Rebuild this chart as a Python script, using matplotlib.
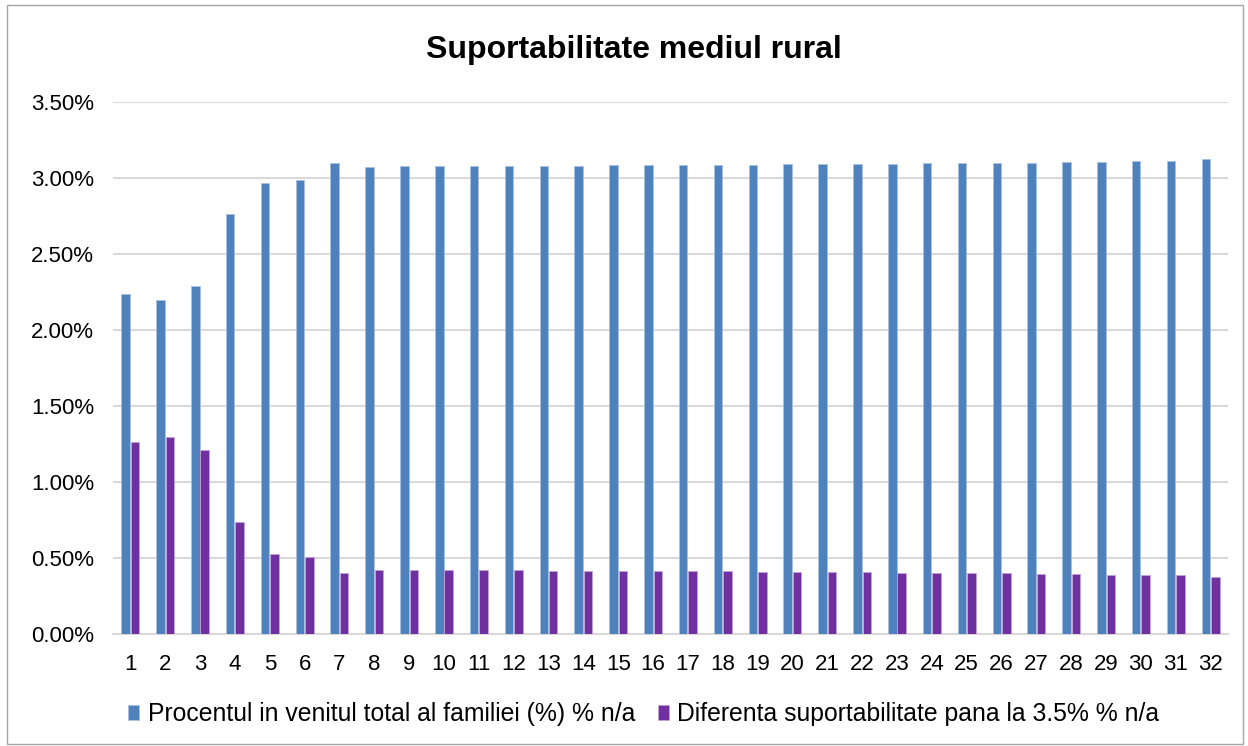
import numpy as np
import matplotlib.pyplot as plt
from matplotlib.patches import Rectangle
from matplotlib.ticker import PercentFormatter

plt.rcParams["font.family"] = ["Liberation Sans", "DejaVu Sans"]

# ── Data ──────────────────────────────────────────────────────────────────────
categories = list(range(1, 33))
procentul = [2.237, 2.200, 2.290, 2.763, 2.970, 2.990, 3.100, 3.075,
             3.078, 3.079, 3.080, 3.081, 3.082, 3.083, 3.084, 3.086,
             3.087, 3.088, 3.089, 3.091, 3.092, 3.094, 3.095, 3.097,
             3.099, 3.101, 3.103, 3.105, 3.108, 3.111, 3.114, 3.125]
diferenta = [1.263, 1.300, 1.210, 0.737, 0.530, 0.510, 0.400, 0.425,
             0.422, 0.421, 0.420, 0.419, 0.418, 0.417, 0.416, 0.414,
             0.413, 0.412, 0.411, 0.409, 0.408, 0.406, 0.405, 0.403,
             0.401, 0.399, 0.397, 0.395, 0.392, 0.389, 0.386, 0.375]
label_a = "Procentul in venitul total al familiei (%) % n/a"
label_b = "Diferenta suportabilitate pana la 3.5% % n/a"
title = "Suportabilitate mediul rural"

BLUE = "#4F81BD"
PURPLE = "#7030A0"
GRID = "#D9D9D9"

# ── Plot ──────────────────────────────────────────────────────────────────────
fig = plt.figure(figsize=(12.48, 7.46), dpi=100)
ax = fig.add_axes([0.0905, 0.150, 0.8935, 0.713])

x = np.arange(len(categories))
w = 0.245
ax.bar(x - 0.135, procentul, w, color=BLUE, edgecolor="#A9C1E0",
       linewidth=0.6, label=label_a, zorder=3)
ax.bar(x + 0.135, diferenta, w, color=PURPLE, edgecolor="#C2A3D9",
       linewidth=0.6, label=label_b, zorder=3)

ax.set_xlim(-0.5, len(categories) - 0.5)
ax.set_ylim(0, 3.5)
ax.set_yticks(np.arange(0, 3.51, 0.5))
ax.yaxis.set_major_formatter(PercentFormatter(decimals=2))
ax.set_xticks(x)
ax.set_xticklabels(categories)
ax.tick_params(length=0, labelsize=16, colors="#000000")
ax.tick_params(axis="x", pad=14)
ax.tick_params(axis="y", pad=13.5)

ax.grid(axis="y", color=GRID, linewidth=1.5, zorder=0)
for s in ["top", "right", "left"]:
    ax.spines[s].set_visible(False)
ax.spines["bottom"].set_color(GRID)
ax.spines["bottom"].set_linewidth(1.5)

fig.text(0.508, 0.933, title, ha="center", va="center",
         fontsize=23, fontweight="bold")

fig.legend(loc="center", bbox_to_anchor=(0.516, 0.043), ncol=2,
           frameon=False, fontsize=17.8, handlelength=0.45, handleheight=0.55,
           handletextpad=0.35, columnspacing=0.9)

# outer chart border
fig.patches.append(Rectangle((0.006, 0.003), 0.99, 0.99, transform=fig.transFigure,
                             fill=False, edgecolor="#A6A6A6", linewidth=1.0))

plt.savefig("out.png", dpi=100)
